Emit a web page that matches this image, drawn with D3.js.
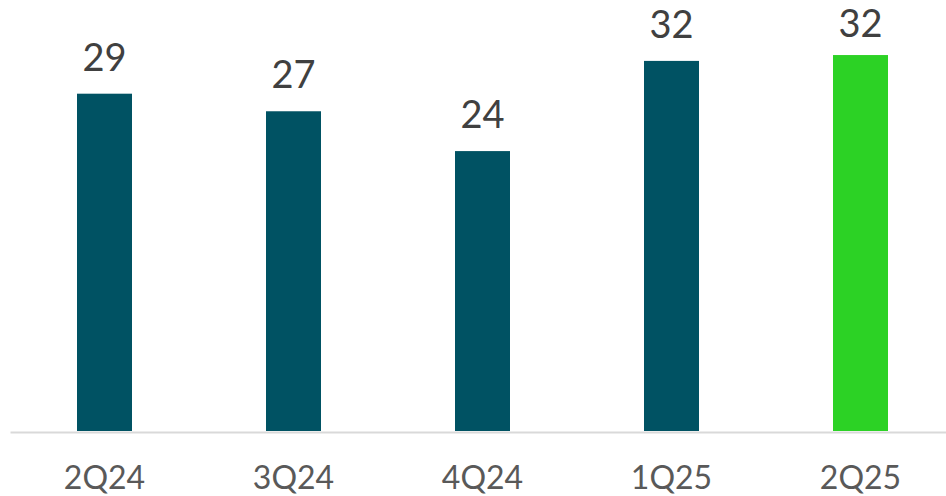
<!DOCTYPE html>
<html>
<head>
<meta charset="utf-8">
<script src="https://cdn.jsdelivr.net/npm/d3@7"></script>
<style>
html,body{margin:0;padding:0;background:#fff;}
svg{display:block;}
</style>
</head>
<body>
<svg id="chart" width="946" height="496"></svg>
<script>
const categories = ["2Q24", "3Q24", "4Q24", "1Q25", "2Q25"];
const values = [28.8, 27.3, 23.9, 31.6, 32.1];
const valueLabels = ["29", "27", "24", "32", "32"];
const barColors = ["#005263", "#005263", "#005263", "#005263", "#2CD225"];

const svg = d3.select("#chart");
const font = "Lato, 'Open Sans', sans-serif";

const x = d3.scaleBand()
  .domain(categories)
  .range([10, 955])
  .paddingInner(0.709)
  .paddingOuter(0.3545);

const y = d3.scaleLinear()
  .domain([0, 36.8])
  .range([431, 0]);

svg.selectAll("rect.bar")
  .data(categories)
  .enter().append("rect")
  .attr("class", "bar")
  .attr("x", d => x(d))
  .attr("width", x.bandwidth())
  .attr("y", (d, i) => y(values[i]))
  .attr("height", (d, i) => y(0) - y(values[i]))
  .attr("fill", (d, i) => barColors[i]);

// baseline axis
const axis = svg.append("g")
  .attr("transform", `translate(0,${y(0) + 1})`)
  .call(d3.axisBottom(x).tickSize(0).tickPadding(33));
axis.select(".domain").attr("stroke", "#d9d9d9").attr("stroke-width", 2);
axis.selectAll("text")
  .attr("font-family", font)
  .attr("font-size", 32)
  .attr("fill", "#595959")
  .attr("dy", 0)
  .attr("y", 57);

svg.selectAll("text.val")
  .data(categories)
  .enter().append("text")
  .attr("class", "val")
  .attr("x", d => x(d) + x.bandwidth() / 2)
  .attr("y", (d, i) => Math.max(y(values[i]) - 23, 37))
  .attr("text-anchor", "middle")
  .attr("font-family", font)
  .attr("font-size", 38)
  .attr("fill", "#404040")
  .text((d, i) => valueLabels[i]);
</script>
</body>
</html>
